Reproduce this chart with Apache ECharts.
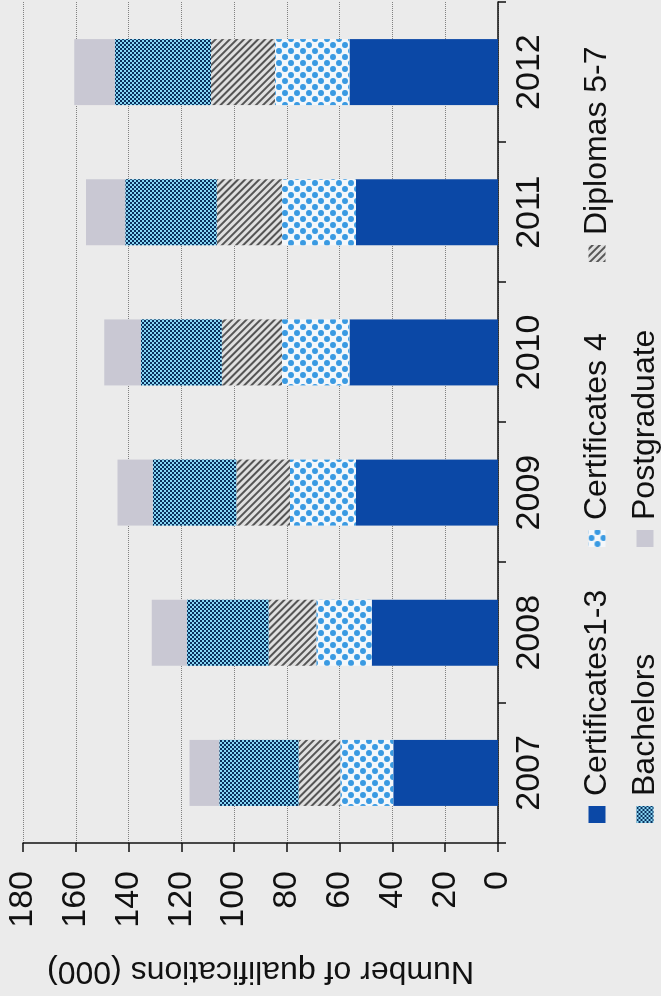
<!DOCTYPE html>
<html>
<head>
<meta charset="utf-8">
<script src="https://cdn.jsdelivr.net/npm/echarts@6/dist/echarts.min.js"></script>
<style>
  html, body { margin: 0; padding: 0; background: #ebebeb; overflow: hidden; }
  /* chart is drawn upright, then turned a quarter turn like the scan */
  #chart {
    position: absolute; left: 0; top: 0;
    width: 996px; height: 661px;
    transform-origin: 0 0;
    transform: translateY(996px) rotate(-90deg);
  }
</style>
</head>
<body>
<div id="chart"></div>
<script>
const years = ["2007", "2008", "2009", "2010", "2011", "2012"];
const cert13 = [39.7, 47.8, 53.8, 56.3, 53.8, 56.3];
const cert4 = [20.1, 21.1, 25.0, 25.6, 28.1, 28.2];
const diplomas = [15.8, 18.1, 20.4, 22.8, 24.7, 24.3];
const bachelors = [30.0, 30.9, 31.6, 30.6, 34.7, 36.3];
const postgrad = [11.3, 13.3, 13.4, 13.9, 14.8, 15.5];

const font = "'Liberation Sans', Arial, sans-serif";

function legendAt(name, left, top) {
  return {
    data: [name],
    left: left,
    top: top,
    icon: "rect",
    itemWidth: 17,
    itemHeight: 17,
    selectedMode: false,
    textStyle: { fontSize: 32, color: "#111", fontFamily: font, padding: [0, 0, 0, 5] }
  };
}

function bar(name, data, color, decal) {
  const s = {
    name: name,
    type: "bar",
    stack: "total",
    barWidth: 66,
    data: data,
    itemStyle: { color: color }
  };
  if (decal) s.itemStyle.decal = decal;
  return s;
}

const chart = echarts.init(document.getElementById("chart"));
chart.setOption({
  backgroundColor: "#ebebeb",
  animation: false,
  grid: { left: 153, right: 2, top: 23, bottom: 163 },
  legend: [
    legendAt("Certificates1-3", 168, 576),
    legendAt("Certificates 4", 444, 576),
    legendAt("Diplomas 5-7", 729, 576),
    legendAt("Bachelors", 168, 624),
    legendAt("Postgraduate", 444, 624)
  ],
  xAxis: {
    type: "category",
    data: years,
    axisLine: { lineStyle: { color: "#111", width: 1.5 } },
    axisTick: { show: true, length: 8, lineStyle: { color: "#111", width: 1.5 } },
    axisLabel: { fontSize: 34, color: "#111", fontFamily: font, margin: 15 }
  },
  yAxis: {
    type: "value",
    min: 0,
    max: 180,
    interval: 20,
    name: "Number of qualifications (000)",
    nameLocation: "middle",
    nameGap: 112,
    nameTextStyle: { fontSize: 32, color: "#111", fontFamily: font },
    axisLine: { show: true, lineStyle: { color: "#111", width: 1.5 } },
    axisTick: { show: true, length: 9, lineStyle: { color: "#111", width: 1.5 } },
    axisLabel: { fontSize: 34, color: "#111", fontFamily: font, margin: 28 },
    splitLine: { lineStyle: { type: "dotted", color: "#808080", width: 1 } }
  },
  series: [
    bar("Certificates1-3", cert13, "#0b48a6"),
    bar("Certificates 4", cert4, "#f4f7fa", {
      symbol: "circle",
      color: "#3a9ae2",
      dashArrayX: [[6, 6], [0, 6, 6, 0]],
      dashArrayY: [6, 0],
      symbolSize: 1
    }),
    bar("Diplomas 5-7", diplomas, "#e0e0e0", {
      symbol: "rect",
      color: "#555555",
      dashArrayX: [1, 0],
      dashArrayY: [2, 3],
      rotation: Math.PI / 4,
      symbolSize: 1
    }),
    bar("Bachelors", bachelors, "#86d6f4", {
      symbol: "rect",
      color: "#0a2f5c",
      dashArrayX: [[2, 2], [0, 2, 2, 0]],
      dashArrayY: [2, 0],
      symbolSize: 1
    }),
    bar("Postgraduate", postgrad, "#c9c8d3")
  ]
});
</script>
</body>
</html>
